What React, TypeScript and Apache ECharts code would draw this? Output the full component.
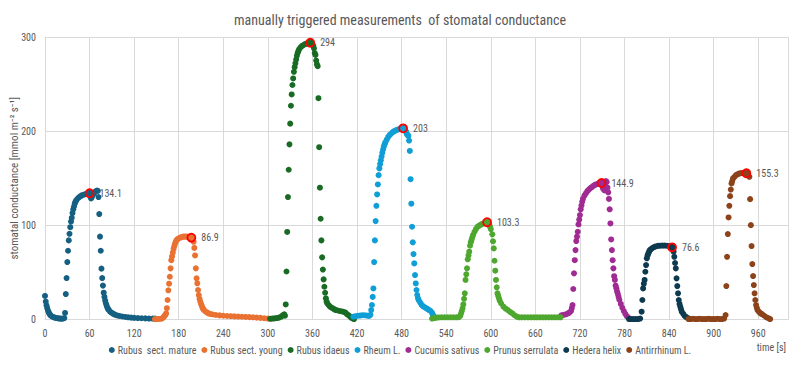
import React, { useEffect, useRef } from "react";
import * as echarts from "echarts";

const titleText = "manually triggered measurements  of stomatal conductance";
const yAxisTitle = "stomatal conductance [mmol m\u207B\u00B2 s\u207B\u00B9]";
const xAxisTitle = "time [s]";

const seriesNames = [
  "Rubus  sect. mature",
  "Rubus sect. young",
  "Rubus idaeus",
  "Rheum L.",
  "Cucumis sativus",
  "Prunus serrulata",
  "Hedera helix",
  "Antirrhinum L.",
];

const seriesColors = ["#156082", "#E97132", "#196B24", "#0F9ED5", "#A02B93", "#4EA72E", "#0D3A4E", "#8C431A"];

const rubusMature = [
  [0, 25], [1, 19], [2, 15], [3, 12], [4, 9.5], [5, 7.5], [6, 6], [7, 5], [8, 4], [10, 3], [12, 2.3], [14, 1.8],
  [16, 1.5], [18, 1.2], [20, 1], [22, 0.9], [24, 0.8], [26, 1.5], [27, 7], [28, 27], [29, 44], [30, 61], [31, 73],
  [32, 84], [33, 91], [34, 98], [35, 104], [36, 108], [37, 113], [38, 117], [39, 120], [40, 123], [41, 125],
  [42, 126.5], [44, 128.5], [46, 130], [48, 131], [50, 132], [52, 132.5], [54, 133], [56, 133.5], [58, 134],
  [60, 134.1], [61, 131], [62, 128.5], [63, 130], [64, 132], [66, 134], [68, 136], [70, 137], [71, 136.5], [72, 130],
  [73, 112], [74, 88], [75, 73], [76, 54], [77, 44], [78, 36], [79, 28.5], [80, 24], [81, 20], [82, 17], [83, 14.5],
  [84, 12.5], [85, 11], [86, 10], [88, 8], [90, 7], [92, 6], [94, 5.2], [97, 4.3], [100, 3.8], [104, 3.2], [108, 2.7],
  [112, 2.3], [116, 2], [120, 1.7], [125, 1.5], [130, 1.3], [135, 1.2], [140, 1], [145, 1], [148, 0.9],
];

const rubusYoung = [
  [148, 0.5], [151, 0.5], [154, 0.6], [157, 0.8], [159, 2], [160, 3], [161, 4], [162, 5], [163, 6.5], [164, 12],
  [165, 20.7], [166, 31], [167, 38], [168, 45.4], [169, 54.3], [170, 63], [171, 67], [172, 71], [173, 75], [174, 78],
  [175, 80.5], [176, 82.5], [177, 84], [178, 85], [180, 86.3], [182, 87], [184, 87.5], [186, 88], [188, 88], [190, 88],
  [192, 88], [194, 87.5], [196, 87], [197, 86.9], [198, 86], [199, 84.3], [200, 82.5], [201, 76], [202, 68],
  [203, 54.3], [204, 43.7], [205, 38.4], [206, 31.3], [207, 26], [208, 22], [209, 19], [210, 16.5], [211, 14.5],
  [212, 12.5], [213, 11], [214, 10], [216, 8.5], [218, 7.5], [220, 6.5], [223, 5.8], [226, 5.3], [230, 4.8],
  [235, 4.4], [240, 4], [245, 3.7], [250, 3.5], [255, 3.3], [260, 3.1], [265, 2.9], [270, 2.7], [275, 2.5],
  [280, 2.3], [285, 2], [290, 1.7], [295, 1.3], [300, 1], [304, 0.8],
];

const rubusIdaeus = [
  [303, 0.8], [306, 1], [309, 1.2], [312, 1.5], [315, 2], [318, 3], [320, 4.5], [322, 5.5], [323, 4], [324, 16],
  [325, 51], [326, 93], [327, 130], [328, 159], [329, 186], [330, 208], [331, 227], [332, 239], [333, 249],
  [334, 256], [335, 263], [336, 268], [337, 272], [338, 276], [339, 280], [340, 283], [341, 285], [342, 287],
  [344, 289], [346, 290.5], [348, 291.5], [350, 292.5], [352, 293], [354, 293.5], [356, 294], [357, 294],
  [359, 292], [361, 291], [362, 288], [363, 283], [364, 281], [365, 275], [366, 271], [367, 269], [368, 235],
  [369, 183], [370, 140], [371, 107], [372, 84], [373, 66], [374, 53], [375, 42.6], [376, 34.8], [377, 28.4],
  [378, 22.5], [379, 19], [380, 17], [382, 15], [384, 13.5], [386, 12.5], [388, 11.5], [390, 10.5], [392, 10],
  [395, 9.3], [398, 8.8], [401, 8.3], [404, 7.5], [406, 6], [408, 4.8], [410, 3.5], [412, 2], [414, 1.2], [416, 0.5],
];

const rheum = [
  [415, 3], [418, 3.5], [421, 4], [424, 4.2], [427, 4.5], [430, 4.5], [433, 4.2], [436, 3.8], [438, 5], [439, 10],
  [440, 15.4], [441, 24], [442, 33], [443, 61], [444, 84], [445, 104.5], [446, 120.7], [447, 132.8], [448, 143.4],
  [449, 153.3], [450, 160.4], [451, 165], [452, 169], [453, 173], [454, 177], [455, 180.5], [456, 183.5], [457, 186],
  [458, 188], [460, 191], [462, 194], [464, 196], [466, 197.5], [468, 199], [470, 200], [472, 200.8], [474, 201.5],
  [476, 202], [478, 202.3], [480, 202.6], [482, 203], [484, 201], [486, 199.5], [487, 197], [488, 196], [489, 195],
  [490, 190], [491, 179], [492, 149], [493, 123], [494, 98.5], [495, 82], [496, 69.5], [497, 59.6], [498, 47.2],
  [499, 38.3], [500, 31.3], [501, 26], [502, 22.5], [503, 20.5], [505, 18], [507, 15.5], [509, 14], [511, 13],
  [513, 12], [515, 11], [517, 10], [519, 9], [521, 7], [522, 5], [523, 3.5],
];

const cucumis = [
  [695, 4.5], [698, 5], [701, 5.5], [704, 6.5], [706, 7.5], [708, 9], [709, 12], [710, 15.4], [711, 32.4], [712, 49],
  [713, 63], [714, 73.7], [715, 83.3], [716, 88], [717, 93.2], [718, 101], [719, 106], [720, 110.9], [721, 117],
  [722, 121], [723, 125], [724, 128], [726, 131.5], [728, 134], [730, 136.3], [732, 138], [734, 139.5], [736, 140.5],
  [738, 142], [740, 143], [742, 143.5], [744, 144], [746, 144.5], [748, 144.8], [749, 144.9], [750, 142], [751, 139],
  [752, 141], [753, 137], [754, 143], [755, 147], [756, 146], [757, 140], [758, 135], [759, 128], [760, 117],
  [761, 102], [762, 85], [763, 73.7], [764, 63], [765, 54.3], [766, 46], [767, 42], [768, 36], [769, 33], [770, 29.5],
  [771, 27], [772, 24], [773, 21], [775, 16.5], [777, 12.5], [779, 9], [781, 6], [783, 3.7], [785, 2],
];

const prunus = [
  [521, 1], [524, 1.5], [527, 2], [530, 2.2], [534, 2.3], [538, 2.3], [542, 2.3], [546, 2.3], [550, 2.3], [554, 2.3],
  [557, 2.5], [559, 4], [560, 6.6], [561, 9], [562, 11.9], [563, 16], [564, 22], [565, 27.8], [566, 42], [567, 48],
  [568, 54.3], [569, 63.9], [570, 68], [571, 72], [572, 78.3], [573, 82], [574, 84.3], [575, 87], [576, 89.6],
  [578, 93], [580, 96], [582, 98.4], [584, 99.5], [586, 100.5], [588, 101.3], [590, 102], [592, 102.7], [594, 103],
  [595, 103.3], [596, 102], [597, 101], [598, 100.5], [599, 98.4], [600, 96], [602, 90.4], [603, 83], [604, 75.5],
  [605, 62.4], [606, 51.8], [607, 42], [608, 34.2], [609, 27.8], [610, 25], [611, 22.5], [612, 20], [614, 17],
  [617, 13.6], [620, 11.5], [623, 10], [626, 8], [629, 6.6], [632, 4.5], [635, 3], [638, 2.3], [642, 2.3],
  [646, 2.3], [650, 2.3], [654, 2.3], [658, 2.3], [662, 2.3], [666, 2.3], [670, 2.3], [674, 2.3], [678, 2.3],
  [682, 2.3], [686, 2.3], [690, 2.3], [694, 2.3],
];

const hedera = [
  [786, 0.5], [789, 0.5], [792, 0.5], [795, 0.5], [798, 0.5], [801, 1], [803, 8.3], [804, 20.7], [805, 33], [806, 38],
  [807, 42], [808, 50.7], [809, 57.8], [810, 65], [811, 68], [812, 70.2], [813, 72], [814, 73.7], [816, 75],
  [818, 76.2], [820, 77], [822, 77.6], [825, 78.2], [828, 78.4], [831, 78.5], [834, 78.5], [837, 78.3], [840, 78],
  [842, 77.3], [844, 76.6], [846, 72], [847, 66.6], [848, 60], [849, 54.3], [850, 43.7], [851, 35.5], [852, 27.8],
  [853, 20.7], [854, 16.5], [855, 13.6], [856, 11], [857, 8.3], [859, 6], [861, 3.7], [863, 2.5], [866, 1.3],
];

const antirrhinum = [
  [866, 0.5], [869, 0.5], [872, 0.8], [875, 0.5], [878, 0.5], [881, 0.8], [884, 0.5], [887, 0.5], [890, 0.5],
  [893, 0.8], [896, 0.5], [899, 0.5], [902, 0.5], [905, 0.8], [908, 0.5], [911, 0.5], [914, 1], [916, 4.8],
  [917, 35.5], [918, 66.6], [919, 90.7], [920, 108.4], [921, 120.7], [922, 131], [923, 138], [924, 144.5], [925, 147],
  [926, 149.8], [928, 151.5], [930, 153.3], [932, 154.2], [934, 155], [936, 155.3], [938, 155.5], [940, 155.5],
  [942, 155.3], [944, 155.3], [946, 154], [948, 151.5], [949, 127.8], [950, 100.2], [951, 78], [952, 58.9],
  [953, 46.1], [954, 36.6], [955, 27.8], [956, 20.7], [957, 15.4], [958, 12.5], [959, 10], [961, 8], [963, 6.5],
  [965, 5.8], [968, 4], [971, 2.3], [974, 1.2], [976, 0.5],
];

const peaks = [
  [60, 134.1], [197, 86.9], [357, 294], [482, 203], [749, 144.9], [595, 103.3], [844, 76.6], [944, 155.3],
];

const allSeries = [rubusMature, rubusYoung, rubusIdaeus, rheum, cucumis, prunus, hedera, antirrhinum];

const FONT = "'Liberation Sans Narrow', 'Roboto Condensed', 'Liberation Sans', sans-serif";
const TEXT_COLOR = "#595959";
const GRID_COLOR = "#d9d9d9";

export default function App() {
  const ref = useRef<HTMLDivElement>(null);

  useEffect(() => {
    const chart = echarts.init(ref.current!, null, { renderer: "svg" });
    chart.setOption({
      animation: false,
      backgroundColor: "#ffffff",
      textStyle: { fontFamily: FONT },
      title: {
        text: titleText,
        left: "center",
        top: 8,
        textStyle: { fontFamily: FONT, fontSize: 14, fontWeight: "normal", color: TEXT_COLOR },
      },
      grid: { left: 45, right: 12, top: 37, bottom: 46.5, containLabel: false, outerBoundsMode: "none" },
      legend: {
        data: seriesNames,
        bottom: 6,
        left: "center",
        icon: "circle",
        itemWidth: 6,
        itemHeight: 6,
        itemGap: 5,
        textStyle: { fontFamily: FONT, fontSize: 10, color: TEXT_COLOR, padding: [0, 0, 0, -2] },
      },
      xAxis: {
        type: "value",
        min: 0,
        max: 1000,
        interval: 60,
        axisLine: { show: true, lineStyle: { color: GRID_COLOR } },
        axisTick: { show: false },
        axisLabel: { color: TEXT_COLOR, fontSize: 10, margin: 9, showMaxLabel: false, fontFamily: FONT },
        splitLine: { show: true, lineStyle: { color: GRID_COLOR } },
      },
      yAxis: {
        type: "value",
        min: 0,
        max: 300,
        interval: 100,
        name: yAxisTitle,
        nameLocation: "middle",
        nameGap: 25,
        nameMoveOverlap: false,
        nameTextStyle: { color: TEXT_COLOR, fontSize: 11, fontFamily: FONT },
        axisLine: { show: false },
        axisTick: { show: false },
        axisLabel: { color: TEXT_COLOR, fontSize: 10, margin: 9, fontFamily: FONT },
        splitLine: { show: true, lineStyle: { color: GRID_COLOR } },
      },
      graphic: [
        {
          type: "text",
          right: 14,
          top: 342,
          style: { text: xAxisTitle, fill: TEXT_COLOR, fontSize: 10, fontFamily: FONT },
        },
      ],
      series: allSeries.map((d, i) => ({
        name: seriesNames[i],
        type: "scatter",
        data: d,
        symbol: "circle",
        symbolSize: 6,
        itemStyle: { color: seriesColors[i], opacity: 1 },
        emphasis: { disabled: true },
        markPoint: {
          symbol: "circle",
          symbolSize: 8,
          itemStyle: { color: seriesColors[i], borderColor: "#FF0000", borderWidth: 1.8 },
          label: {
            show: true,
            position: "right",
            distance: 5,
            color: TEXT_COLOR,
            fontSize: 10,
            fontFamily: FONT,
            formatter: (p: any) => String(p.value),
          },
          data: [{ coord: peaks[i], value: peaks[i][1] }],
        },
      })),
    });
    return () => chart.dispose();
  }, []);

  return <div ref={ref} style={{ position: "fixed", left: 0, top: 0, width: 800, height: 366 }} />;
}
